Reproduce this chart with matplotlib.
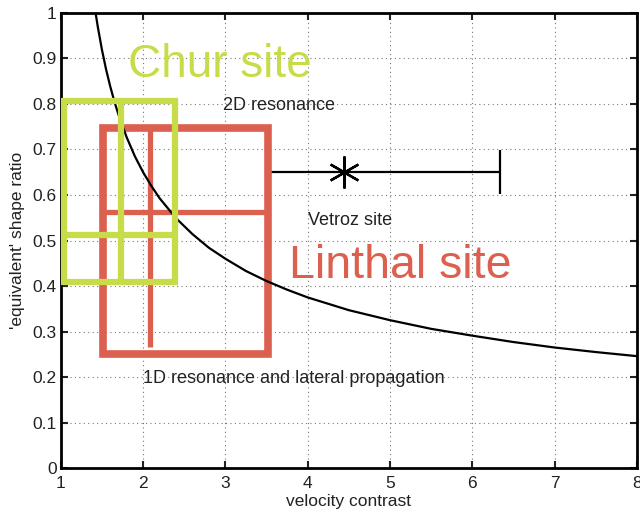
import matplotlib
matplotlib.use("Agg")
import matplotlib.pyplot as plt
from matplotlib.patches import Rectangle

plt.rcParams["font.family"] = ["Liberation Sans", "DejaVu Sans"]

# critical shape ratio curve (2D resonance limit) vs velocity contrast
cv_curve = [1.42, 1.45, 1.5, 1.55, 1.6, 1.65, 1.7, 1.8, 1.9, 2.0, 2.1, 2.2, 2.4, 2.6, 2.8,
            3.0, 3.25, 3.5, 3.75, 4.0, 4.5, 5.0, 5.5, 6.0, 6.5, 7.0, 7.5, 8.0]
ratio_curve = [1.003, 0.969, 0.919, 0.876, 0.839, 0.806, 0.777, 0.727, 0.685, 0.650,
               0.620, 0.593, 0.549, 0.514, 0.484, 0.460, 0.433, 0.411, 0.392, 0.375,
               0.347, 0.325, 0.306, 0.291, 0.277, 0.265, 0.255, 0.246]

# Vetroz site: estimate with velocity contrast range
vetroz_cv = 4.44
vetroz_cv_lo = 3.515
vetroz_cv_hi = 6.343
vetroz_ratio = 0.65

# site ranges and best estimates
chur = dict(cv=(1.036, 2.385), ratio=(0.409, 0.807), cv_best=1.735, ratio_best=0.512)
linthal = dict(cv=(1.516, 3.515), ratio=(0.250, 0.748), cv_best=2.08, ratio_best=0.563,
               cv_line_bottom=0.267)

GREEN = "#c7dc48"
RED = "#dc604f"
TXT = "#222222"

fig = plt.figure(figsize=(6.4, 5.15), dpi=100)
ax = fig.add_axes([0.095, 0.091, 0.9, 0.884])

ax.errorbar([vetroz_cv], [vetroz_ratio],
            xerr=[[vetroz_cv - vetroz_cv_lo], [vetroz_cv_hi - vetroz_cv]],
            fmt="none", ecolor="black", elinewidth=1.6, capsize=16, capthick=1.6, zorder=2)
ax.plot([vetroz_cv], [vetroz_ratio], linestyle="none", marker=(6, 2, 0),
        markersize=23, markeredgewidth=1.7, color="black", zorder=2)

# Linthal box
x0, x1 = linthal["cv"]
y0, y1 = linthal["ratio"]
ax.add_patch(Rectangle((x0, y0), x1 - x0, y1 - y0, fill=False, edgecolor=RED,
                       linewidth=5.5, zorder=3))
ax.plot([x0, x1], [linthal["ratio_best"]] * 2, color=RED, linewidth=3.8,
        solid_capstyle="butt", zorder=3)
ax.plot([linthal["cv_best"]] * 2, [linthal["cv_line_bottom"], y1], color=RED,
        linewidth=3.8, solid_capstyle="butt", zorder=3)

ax.plot(cv_curve, ratio_curve, color="black", linewidth=1.6, zorder=4)

# Chur box
x0, x1 = chur["cv"]
y0, y1 = chur["ratio"]
ax.add_patch(Rectangle((x0, y0), x1 - x0, y1 - y0, fill=False, edgecolor=GREEN,
                       linewidth=4.5, zorder=5))
ax.plot([x0, x1], [chur["ratio_best"]] * 2, color=GREEN, linewidth=4.5,
        solid_capstyle="butt", zorder=5)
ax.plot([chur["cv_best"]] * 2, [y0, y1], color=GREEN, linewidth=4.5,
        solid_capstyle="butt", zorder=5)

ax.text(1.815, 0.86, "Chur site", color=GREEN, fontsize=33, zorder=6)
ax.text(3.77, 0.418, "Linthal site", color=RED, fontsize=33.5, zorder=6)
ax.text(2.97, 0.787, "2D resonance", color=TXT, fontsize=13, zorder=6)
ax.text(4.0, 0.534, "Vetroz site", color=TXT, fontsize=13, zorder=6)
ax.text(2.0, 0.187, "1D resonance and lateral propagation", color=TXT, fontsize=13,
        zorder=6)

ax.set_xlim(1, 8)
ax.set_ylim(0, 1)
ax.set_xticks(range(1, 9))
ax.set_yticks([i / 10 for i in range(11)])
ax.set_yticklabels(["0", "0.1", "0.2", "0.3", "0.4", "0.5", "0.6", "0.7", "0.8", "0.9", "1"])
ax.grid(True, linestyle=(0, (1, 3)), color="#777777", linewidth=0.8)
ax.set_axisbelow(True)
ax.tick_params(direction="in", top=True, right=True, length=5, width=1.5,
               labelsize=12.5, colors=TXT)
ax.tick_params(axis="x", pad=6)
ax.tick_params(axis="y", pad=3)
for s in ax.spines.values():
    s.set_linewidth(2)
ax.set_xlabel("velocity contrast", fontsize=12.5, color=TXT, labelpad=2)
ax.set_ylabel("'equivalent' shape ratio", fontsize=12.5, color=TXT, labelpad=5)

fig.savefig("out.png", dpi=100)
